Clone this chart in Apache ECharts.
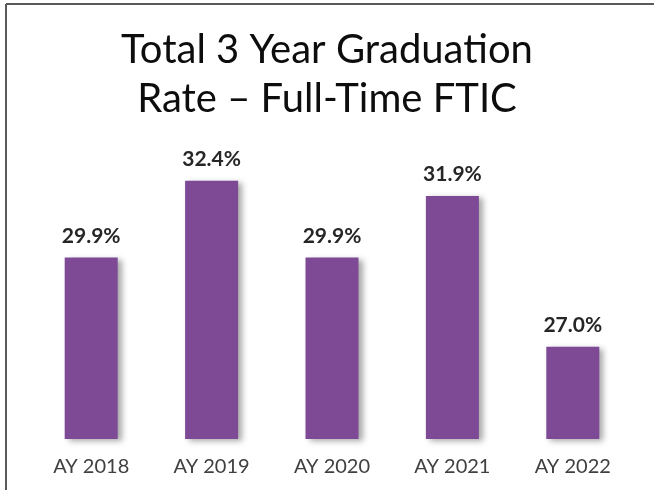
<!DOCTYPE html>
<html>
<head>
<meta charset="utf-8">
<script src="https://cdn.jsdelivr.net/npm/echarts@6/dist/echarts.min.js"></script>
<style>html,body{margin:0;padding:0;background:#fff;}#c{width:654px;height:490px;}</style>
</head>
<body>
<div id="c"></div>
<script>
const categories = ['AY 2018', 'AY 2019', 'AY 2020', 'AY 2021', 'AY 2022'];
const rates = [29.9, 32.4, 29.9, 31.9, 27.0];
const titleLines = ['Total 3 Year Graduation', 'Rate \u2013 Full-Time FTIC'];

const chart = echarts.init(document.getElementById('c'), null, {renderer: 'canvas'});
chart.setOption({
  animation: false,
  backgroundColor: '#ffffff',
  title: {
    text: titleLines.join('\n'),
    left: 'center',
    top: 21,
    textStyle: {fontFamily: 'Lato', fontWeight: 'normal', fontSize: 40, lineHeight: 49, color: '#0d0d0d'}
  },
  grid: {left: 31, right: 21, top: 70, bottom: 51},
  xAxis: {
    type: 'category',
    data: categories,
    axisLine: {show: false},
    axisTick: {show: false},
    axisLabel: {margin: 18, fontFamily: 'Lato', fontSize: 20, color: '#404040'}
  },
  yAxis: {
    type: 'value', min: 24, max: 36, show: false, splitLine: {show: false}
  },
  series: [{
    type: 'bar',
    data: rates,
    barWidth: 53,
    itemStyle: {
      color: '#7E4A96',
      shadowColor: 'rgba(0,0,0,0.35)', shadowBlur: 6, shadowOffsetX: 4, shadowOffsetY: 2
    },
    label: {
      show: true, position: 'top', distance: 11,
      formatter: p => p.value.toFixed(1) + '%',
      fontFamily: 'Lato', fontWeight: 'bold', fontSize: 21, color: '#262626'
    }
  }],
  graphic: [
    {type: 'line', shape: {x1: 6, y1: 4, x2: 654, y2: 4}, style: {stroke: '#595959', lineWidth: 2}},
    {type: 'line', shape: {x1: 6, y1: 4, x2: 6, y2: 490}, style: {stroke: '#595959', lineWidth: 2}}
  ]
});
</script>
</body>
</html>
